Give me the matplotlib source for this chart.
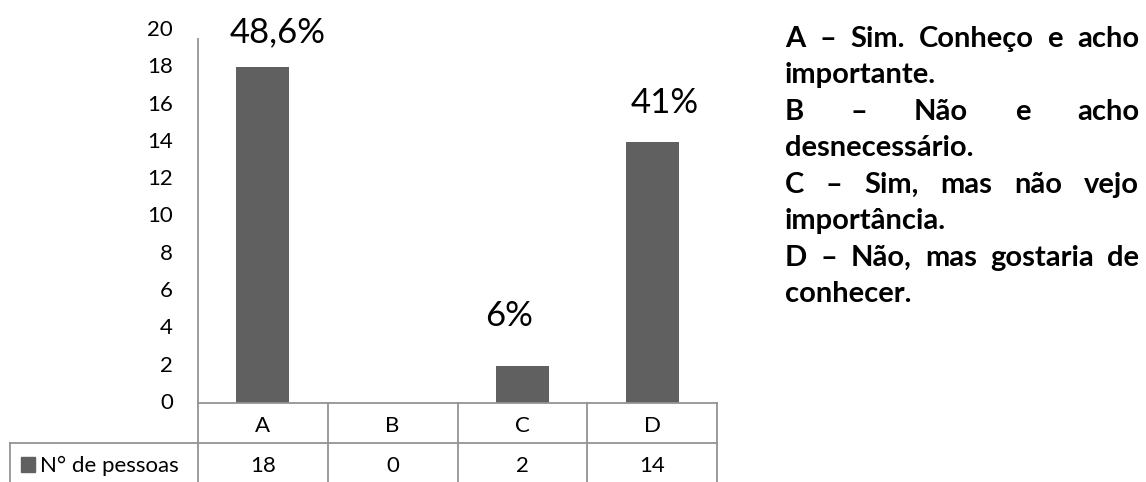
import matplotlib
matplotlib.use("Agg")
import matplotlib.pyplot as plt
from matplotlib.lines import Line2D
from matplotlib.patches import Rectangle

categories = ["A", "B", "C", "D"]
values = [18, 0, 2, 14]
pct_labels = ["48,6%", None, "6%", "41%"]
pct_pos = [(0.115, 19.36), None, (-0.1, 4.13), (0.1, 15.55)]  # x offset from bar centre, baseline y value
series_name = "N° de pessoas"
yticks = list(range(0, 21, 2))
legend_lines = [
    ("A – Sim. Conheço e acho", True),
    ("importante.", False),
    ("B – Não e acho", True),
    ("desnecessário.", False),
    ("C – Sim, mas não vejo", True),
    ("importância.", False),
    ("D – Não, mas gostaria de", True),
    ("conhecer.", False),
]

FONT = "Lato"
BAR_COLOR = "#606060"
LINE_COLOR = "#939393"
W, H = 1146, 482

fig = plt.figure(figsize=(W / 100, H / 100), dpi=100)
L, R, B, T = 198, 717, 403, 30
ax = fig.add_axes([L / W, 1 - B / H, (R - L) / W, (B - T) / H])
x = list(range(len(categories)))
ax.bar(x, values, width=0.41, color=BAR_COLOR)
ax.set_xlim(-0.5, len(categories) - 0.5)
ax.set_ylim(0, 20)
ax.set_yticks(yticks)
ax.set_yticklabels([str(v) for v in yticks], fontsize=16, family=FONT)
ax.tick_params(axis="y", length=0, pad=18)
for lab in ax.get_yticklabels():
    lab.set_va("center")
ax.set_xticks([])
for s in ["top", "right", "bottom"]:
    ax.spines[s].set_visible(False)
ax.spines["left"].set_color(LINE_COLOR)
ax.spines["left"].set_linewidth(1.3)
ax.spines["left"].set_bounds(0, 19.5)

for i, (lab, pos) in enumerate(zip(pct_labels, pct_pos)):
    if lab is None:
        continue
    ax.text(i + pos[0], pos[1], lab, ha="center", va="baseline", fontsize=25, family=FONT)

# data table drawn in pixel coordinates
def px(xp, yp):
    return xp / W, 1 - yp / H

def hline(y, x0, x1):
    fig.add_artist(Line2D([x0 / W, x1 / W], [1 - y / H, 1 - y / H], color=LINE_COLOR, lw=1.3))

def vline(xp, y0, y1):
    fig.add_artist(Line2D([xp / W, xp / W], [1 - y0 / H, 1 - y1 / H], color=LINE_COLOR, lw=1.3))

row1, row2, row3 = 403, 443, 482
col_w = (R - L) / len(categories)
hline(row1, L, R)
hline(row2, 10, R)
for k in range(len(categories) + 1):
    vline(L + k * col_w, row1, row3)
vline(10, row2, row3)
for k, (c, v) in enumerate(zip(categories, values)):
    cx = L + (k + 0.5) * col_w
    fig.text(*px(cx, 432), c, ha="center", va="baseline", fontsize=16, family=FONT)
    fig.text(*px(cx, 472), str(v), ha="center", va="baseline", fontsize=16, family=FONT)
fig.add_artist(Rectangle(px(21, 472), 14 / W, 15 / H, color=BAR_COLOR))
fig.text(*px(40, 472), series_name, ha="left", va="baseline", fontsize=16, family=FONT)

# justified bold description text
fig.canvas.draw()
renderer = fig.canvas.get_renderer()
tx0, tx1 = 785, 1139
y0, dy = 47, 36.5
for li, (line, justify) in enumerate(legend_lines):
    yp = y0 + li * dy
    words = line.split(" ")
    if not justify or len(words) == 1:
        fig.text(*px(tx0, yp), line, ha="left", va="baseline", fontsize=21, family=FONT, weight="bold")
        continue
    arts = [fig.text(0, 0, w_, ha="left", va="baseline", fontsize=21, family=FONT, weight="bold") for w_ in words]
    widths = [a.get_window_extent(renderer).width for a in arts]
    gap = (tx1 - tx0 - sum(widths)) / (len(words) - 1)
    xp = tx0
    for a, wd in zip(arts, widths):
        a.set_position(px(xp, yp))
        xp += wd + gap

fig.savefig("out.png", dpi=100)
